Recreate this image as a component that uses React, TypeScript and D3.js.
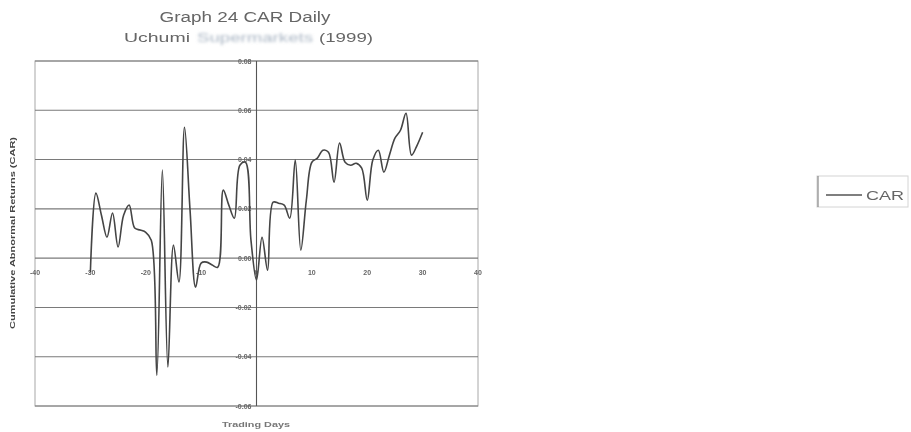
import React from "react";
import * as d3 from "d3";

const days: number[] = d3.range(-30, 31);
const carValues: number[] = [
  -0.0057, 0.0264, 0.0174, 0.0085, 0.0183, 0.0045, 0.0174, 0.0215, 0.0122, 0.0114,
  0.0105, 0.0073, -0.0475, 0.0357, -0.0442, 0.0053, -0.0097, 0.0531, 0.0195, -0.0118,
  -0.002, -0.0016, -0.0028, -0.0037, 0.0276, 0.0215, 0.0162, 0.0377, 0.0389, 0.0073,
  -0.0089, 0.0085, -0.0049, 0.0227, 0.0223, 0.0215, 0.0162, 0.0398, 0.0032, 0.0235,
  0.0389, 0.0406, 0.0438, 0.043, 0.0308, 0.0467, 0.0389, 0.0377, 0.0385, 0.0365,
  0.0235, 0.0398, 0.0438, 0.0349, 0.0418, 0.0487, 0.0519, 0.0588, 0.0418, 0.0458,
  0.0511,
];
const yTicks: number[] = [0.08, 0.06, 0.04, 0.02, 0.0, -0.02, -0.04, -0.06];
const xTicks: number[] = [-40, -30, -20, -10, 0, 10, 20, 30, 40];
const titleText = "Graph 24 CAR Daily";
const subtitleParts = ["Uchumi", "Supermarkets", "(1999)"];
const yAxisTitle = "Cumulative Abnormal Returns (CAR)";
const xAxisTitle = "Trading Days";
const seriesName = "CAR";

export default function App() {
  const W = 911;
  const H = 432;
  const left = 35, right = 478, top = 61, bottom = 406;
  const x = d3.scaleLinear().domain([-40, 40]).range([left, right]);
  const y = d3.scaleLinear().domain([-0.06, 0.08]).range([bottom, top]);
  const data = days.map((d, i) => [d, carValues[i]] as [number, number]);
  const line = d3
    .line<[number, number]>()
    .x((d) => x(d[0]))
    .y((d) => y(d[1]))
    .curve(d3.curveCatmullRom.alpha(0.5));
  const font = "Arial, 'Liberation Sans', sans-serif";
  return (
    <svg
      width={W}
      height={H}
      style={{ position: "absolute", left: 0, top: 0, background: "#fff" }}
    >
      <defs>
        <filter id="soft" x="-5%" y="-5%" width="110%" height="110%">
          <feGaussianBlur stdDeviation="0.5" />
        </filter>
        <filter id="blurword" x="-5%" y="-30%" width="110%" height="160%">
          <feGaussianBlur stdDeviation="1.6" />
        </filter>
      </defs>
      <rect x={0} y={0} width={W} height={H} fill="#fff" />
      <g filter="url(#soft)">
        {/* titles */}
        <text x={245} y={22} textAnchor="middle" fontFamily={font} fontSize={14}
          fill="#666" textLength={171} lengthAdjust="spacingAndGlyphs">
          {titleText}
        </text>
        <text x={124} y={42} fontFamily={font} fontSize={13} fill="#666"
          textLength={66} lengthAdjust="spacingAndGlyphs">
          {subtitleParts[0]}
        </text>
        <text x={197} y={42} fontFamily={font} fontSize={13} fill="#aab6c4"
          textLength={116} lengthAdjust="spacingAndGlyphs" filter="url(#blurword)">
          {subtitleParts[1]}
        </text>
        <text x={319} y={42} fontFamily={font} fontSize={13} fill="#666"
          textLength={54} lengthAdjust="spacingAndGlyphs">
          {subtitleParts[2]}
        </text>

        {/* plot frame */}
        <rect x={left} y={top} width={right - left} height={bottom - top}
          fill="none" stroke="#a8a8a8" strokeWidth={1} />
        {/* gridlines */}
        {yTicks.map((t) => (
          <line key={"g" + t} x1={left} x2={right} y1={y(t)} y2={y(t)}
            stroke="#7a7a7a" strokeWidth={1.1} />
        ))}
        {/* vertical axis at 0 */}
        <line x1={x(0)} x2={x(0)} y1={top} y2={bottom} stroke="#555" strokeWidth={1.1} />
        {/* y tick labels */}
        {yTicks.map((t) => (
          <text key={"yl" + t} x={x(0) - 5} y={y(t) + 2.5} textAnchor="end"
            fontFamily={font} fontSize={7} fontWeight="bold" fill="#666">
            {t.toFixed(2)}
          </text>
        ))}
        {/* x tick labels */}
        {xTicks.map((t) => (
          <text key={"xl" + t} x={x(t)} y={y(0) + 17} textAnchor="middle"
            fontFamily={font} fontSize={7} fontWeight="bold" fill="#666">
            {t}
          </text>
        ))}
        {/* axis titles */}
        <text transform={`translate(15,233) rotate(-90)`} textAnchor="middle"
          fontFamily={font} fontSize={7} fontWeight="bold" fill="#444"
          textLength={192} lengthAdjust="spacingAndGlyphs">
          {yAxisTitle}
        </text>
        <text x={256} y={427} textAnchor="middle" fontFamily={font} fontSize={7}
          fontWeight="bold" fill="#777" textLength={68} lengthAdjust="spacingAndGlyphs">
          {xAxisTitle}
        </text>

        {/* series */}
        <path d={line(data) || ""} fill="none" stroke="#444" strokeWidth={1.6}
          strokeLinejoin="round" />

        {/* legend */}
        <rect x={817} y={176} width={91} height={31} fill="#fff" stroke="#d4d4d4" strokeWidth={1} />
        <line x1={818} x2={818} y1={176} y2={207} stroke="#888" strokeWidth={1.2} />
        <line x1={826} x2={862} y1={195} y2={195} stroke="#555" strokeWidth={1.4} />
        <text x={866} y={200} fontFamily={font} fontSize={13} fill="#666"
          textLength={38} lengthAdjust="spacingAndGlyphs">
          {seriesName}
        </text>
      </g>
    </svg>
  );
}
